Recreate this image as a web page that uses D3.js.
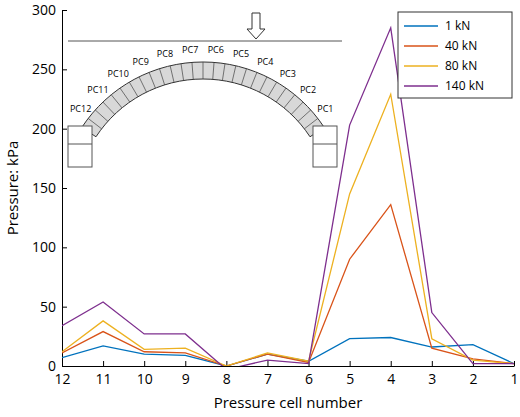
<!DOCTYPE html>
<html><head><meta charset="utf-8">
<script src="https://cdn.jsdelivr.net/npm/d3@7"></script>
<style>body{margin:0;background:#fff}text{font-family:"Open Sans",sans-serif}</style>
</head><body><div id="chart"></div>
<script>
var cells = [12, 11, 10, 9, 8, 7, 6, 5, 4, 3, 2, 1];
var load1 = [7, 17, 10, 9, 0, 10, 4, 23, 24, 16, 18, 2];
var load40 = [11, 29, 12, 11, 0, 10, 3, 90, 136, 15, 6, 2];
var load80 = [12, 38, 14, 15, 0, 11, 4, 145, 229, 23, 5, 2];
var load140 = [34, 54, 27, 27, -3, 5, 2, 203, 285, 45, 2, 2];
var seriesNames = ['1 kN', '40 kN', '80 kN', '140 kN'];
var colors = ['#0072BD', '#D95319', '#EDB120', '#7E2F8E'];
var yTicks = [0, 50, 100, 150, 200, 250, 300];

var svg = d3.select('#chart').append('svg').attr('width', 520).attr('height', 417);
var x = d3.scaleLinear().domain([12, 1]).range([62, 514]);
var y = d3.scaleLinear().domain([0, 300]).range([366, 10]);

svg.append('defs').append('clipPath').attr('id', 'clip')
  .append('rect').attr('x', 62).attr('y', 10).attr('width', 452).attr('height', 356);

svg.append('g').attr('transform', 'translate(0,366)')
  .call(d3.axisBottom(x).tickValues(cells).tickFormat(d3.format('d')).tickSizeInner(-5).tickSizeOuter(0))
  .call(function(g) { g.selectAll('text').attr('dy', '1.1em').style('font-size', '14px'); });
svg.append('g').attr('transform', 'translate(62,0)')
  .call(d3.axisLeft(y).tickValues(yTicks).tickSizeInner(-5).tickSizeOuter(0))
  .call(function(g) { g.selectAll('text').attr('x', -6).style('font-size', '14px'); });

svg.append('text').attr('x', 288).attr('y', 408).attr('text-anchor', 'middle')
  .style('font-size', '15px').text('Pressure cell number');
svg.append('text').attr('transform', 'translate(18,188) rotate(-90)').attr('text-anchor', 'middle')
  .style('font-size', '15px').text('Pressure: kPa');

var line = d3.line().x(function(d, i) { return x(cells[i]); }).y(function(d) { return y(d); });
[load1, load40, load80, load140].forEach(function(s, k) {
  svg.append('path').datum(s).attr('d', line).attr('clip-path', 'url(#clip)')
    .attr('fill', 'none').attr('stroke', colors[k]).attr('stroke-width', 1.3);
});

// legend
var lg = svg.append('g');
lg.append('rect').attr('x', 398).attr('y', 12).attr('width', 114).attr('height', 86)
  .attr('fill', '#fff').attr('stroke', '#333');
seriesNames.forEach(function(n, k) {
  var yy = 26 + k * 20;
  lg.append('line').attr('x1', 404).attr('x2', 438).attr('y1', yy).attr('y2', yy)
    .attr('stroke', colors[k]).attr('stroke-width', 1.3);
  lg.append('text').attr('x', 445).attr('y', yy + 4).style('font-size', '12px').text(n);
});

// arch inset
var ins = svg.append('g');
ins.append('line').attr('x1', 68).attr('x2', 342).attr('y1', 41).attr('y2', 41).attr('stroke', '#555');
ins.append('path').attr('d', 'M252,13 h8 v16 h5 l-9,10 l-9,-10 h5 z').attr('fill', '#fff').attr('stroke', '#333');
var cx = 203, cy = 207, R = 145, r = 128, a0 = 0.99;
ins.append('path').attr('transform', 'translate(' + cx + ',' + cy + ')')
  .attr('d', d3.arc().innerRadius(r).outerRadius(R).startAngle(-a0).endAngle(a0)())
  .attr('fill', '#d8d8d8').attr('stroke', '#333');
d3.range(1, 26).forEach(function(i) {
  var a = -a0 + 2 * a0 * i / 26;
  ins.append('line').attr('x1', cx + r * Math.sin(a)).attr('y1', cy - r * Math.cos(a))
    .attr('x2', cx + R * Math.sin(a)).attr('y2', cy - R * Math.cos(a)).attr('stroke', '#444').attr('stroke-width', 0.7);
});
d3.range(12).forEach(function(i) {
  var a = a0 - 0.08 - i * (2 * a0 - 0.16) / 11;
  var px = cx + (R + 10) * Math.sin(a), py = cy - (R + 10) * Math.cos(a);
  ins.append('text').attr('x', px).attr('y', py).attr('text-anchor', 'middle')
    .style('font-size', '9px').text('PC' + (i + 1));
});
[[68, 126], [313, 126]].forEach(function(b) {
  ins.append('rect').attr('x', b[0]).attr('y', b[1]).attr('width', 24).attr('height', 41)
    .attr('fill', '#fff').attr('stroke', '#555');
  ins.append('line').attr('x1', b[0]).attr('x2', b[0] + 24).attr('y1', b[1] + 18).attr('y2', b[1] + 18).attr('stroke', '#555');
});
</script></body></html>
